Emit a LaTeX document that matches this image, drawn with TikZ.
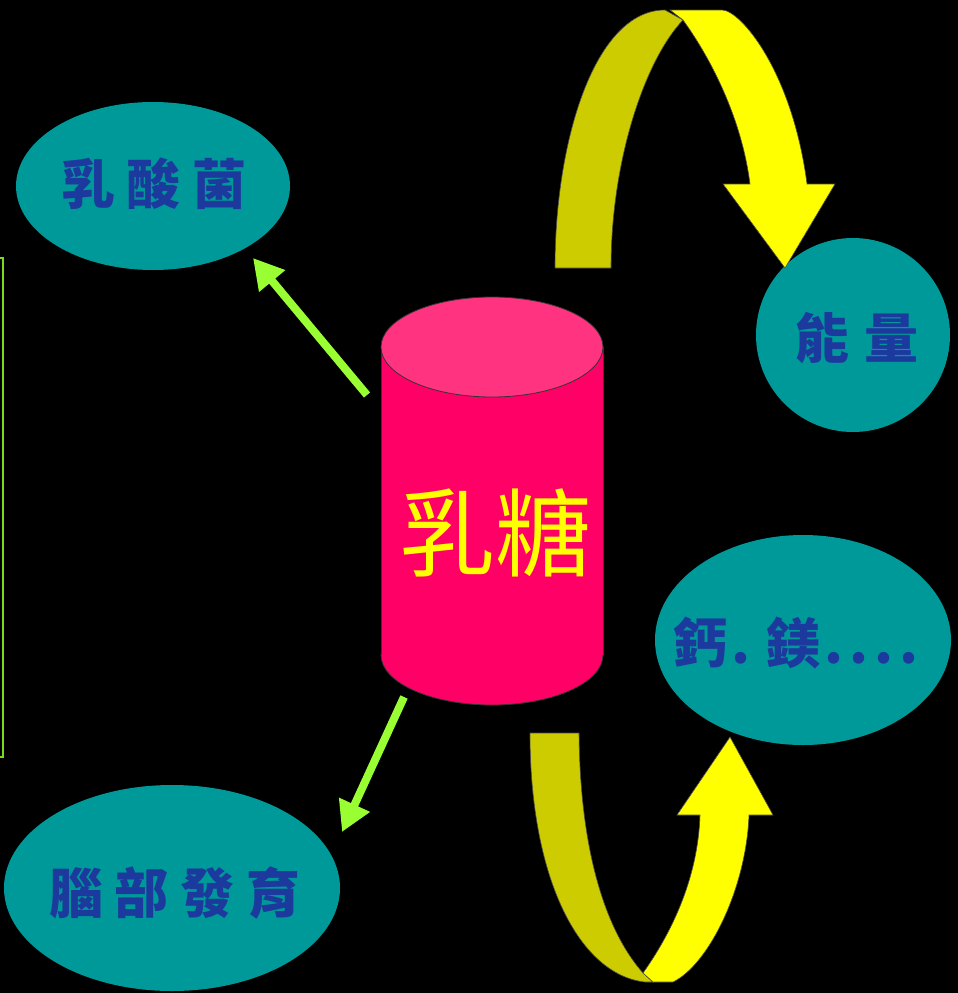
\documentclass[tikz,border=0pt]{standalone}
\usepackage{fontspec}
\newfontfamily\cjk{Noto Sans CJK TC}
\usetikzlibrary{arrows.meta,shapes.geometric}
\definecolor{tealfill}{RGB}{0,153,153}
\definecolor{txtblue}{RGB}{28,58,158}
\definecolor{lgreen}{RGB}{153,255,51}
\definecolor{bracketgreen}{RGB}{120,220,30}
\definecolor{dyellow}{RGB}{204,204,0}
\definecolor{byellow}{RGB}{255,255,0}
\definecolor{cyltop}{RGB}{255,51,128}
\definecolor{cylbody}{RGB}{255,0,102}
\tikzset{
  bubbletext/.style={inner sep=0pt, text=txtblue, font=\cjk\bfseries\fontsize{54}{54}\selectfont},
  bubblefill/.style={fill=tealfill},
  greenarrow/.style={draw=lgreen, line width=8pt, -{Triangle[length=30pt,width=32pt]}},
  darkband/.style={fill=dyellow, draw=black!70, line width=0.6pt},
  brightband/.style={fill=byellow, draw=black!70, line width=0.6pt},
  cylline/.style={draw=black!80, line width=0.8pt}
}
\newcommand\sgap{\hspace{12pt}}
\begin{document}
\begin{tikzpicture}[x=1pt,y=-1pt]
\fill[black] (0,0) rectangle (958,993);
\useasboundingbox (0,0) rectangle (958,993);

% left bracket line
\draw[bracketgreen, line width=1.5pt] (0,258) -- (3,258) -- (3,757) -- (0,757);

% bubbles
\fill[bubblefill] (153,186) ellipse [x radius=137, y radius=84];
\fill[bubblefill] (853,335) ellipse [x radius=97, y radius=97];
\fill[bubblefill] (803,640) ellipse [x radius=148, y radius=105];
\fill[bubblefill] (172,888) ellipse [x radius=168, y radius=103];
\node[bubbletext] (lacto) at (154,184) {乳\sgap 酸\sgap 菌};
\node[bubbletext] (energy) at (857,338) {能\hspace{16pt}量};
\node[bubbletext] (mineral) at (796,643) {鈣\hspace{4pt}.\hspace{16pt}鎂\hspace{4pt}.\hspace{6pt}.\hspace{6pt}.\hspace{6pt}.};
\node[bubbletext] (brain) at (175,893) {腦\sgap 部\sgap 發\sgap 育};

% cylinder
\fill[cylbody] (492,655) ellipse [x radius=111, y radius=50];
\draw[cylline] (492,655) ellipse [x radius=111, y radius=50];
\fill[cylbody] (381,347) rectangle (603,655);
\draw[cylline] (381,347) -- (381,655);
\draw[cylline] (603,347) -- (603,655);
\fill[cyltop] (492,347) ellipse [x radius=111, y radius=50];
\draw[cylline] (492,347) ellipse [x radius=111, y radius=50];
\node[minimum width=222pt, minimum height=408pt, inner sep=0pt] (cyl) at (492,501) {};
\node[text=byellow, font=\cjk\fontsize{96}{96}\selectfont, inner sep=0pt] (lactose) at (495,533) {乳糖};

% green arrows
\coordinate (g1s) at (367,395);
\coordinate (g1e) at (253,258);
\coordinate (g2s) at (404,697);
\coordinate (g2e) at (342,832);
\draw[greenarrow] (g1s) -- (g1e);
\draw[greenarrow] (g2s) -- (g2e);

% top curved arrow
\draw[darkband] (555,268) .. controls (555,140) and (595,10) .. (665,10) -- (683,20)
  .. controls (645,60) and (611,160) .. (611,268) -- cycle;
\draw[brightband] (670,10) -- (722,10) .. controls (740,10) and (792,70) .. (807,184)
  -- (835,184) -- (785,268) -- (723,184) -- (750,184)
  .. controls (742,120) and (712,60) .. (683,20) -- cycle;

% bottom curved arrow
\draw[darkband] (530,733) -- (579,733) .. controls (580,850) and (605,930) .. (643,973)
  -- (653,982) -- (645,982) .. controls (580,975) and (530,880) .. (530,733) -- cycle;
\draw[brightband] (643,973) .. controls (670,935) and (698,880) .. (700,815)
  -- (677,815) -- (730,737) -- (773,815) -- (749,815)
  .. controls (746,890) and (708,965) .. (673,982) -- (653,982) -- cycle;
\end{tikzpicture}
\end{document}
